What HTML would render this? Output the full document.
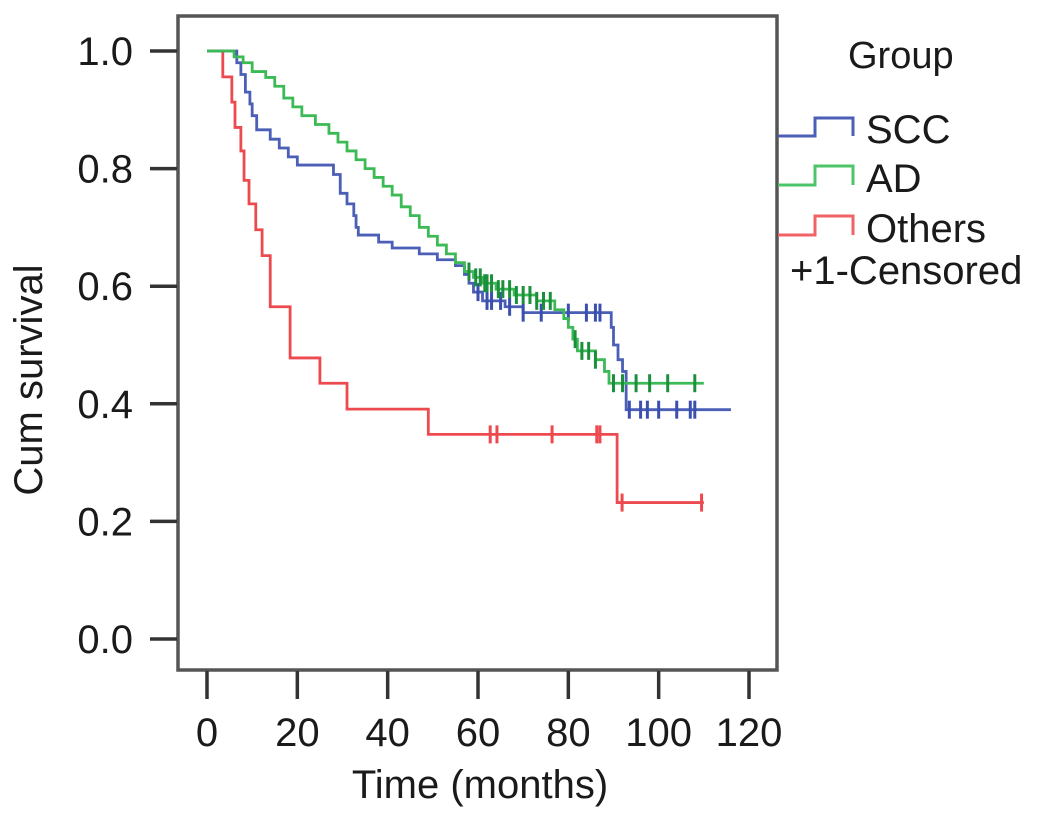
<!DOCTYPE html>
<html><head><meta charset="utf-8"><style>
body{margin:0;background:#fff;width:1042px;height:819px;overflow:hidden;font-family:"Liberation Sans",sans-serif}
svg text{font-family:"Liberation Sans",sans-serif;fill:#1a1a1a}
</style></head><body>
<svg id="chart" width="1042" height="819" viewBox="0 0 1042 819">
<rect x="178" y="16" width="599" height="654" fill="#fff" stroke="#555" stroke-width="3.5"/>
<g id="axes"></g><g id="series"></g>
<text transform="translate(42,380) rotate(-90)" text-anchor="middle" font-size="40">Cum survival</text>
<text x="480" y="798" text-anchor="middle" font-size="40">Time (months)</text>
<g>
<text x="848" y="68" font-size="38">Group</text>
<path d="M778 136H815V118H853V136" fill="none" stroke="#4a5fb5" stroke-width="3"/>
<text x="866" y="143" font-size="40">SCC</text>
<path d="M778 185H815V166H853V185" fill="none" stroke="#4cc46a" stroke-width="3"/>
<text x="866" y="192" font-size="40">AD</text>
<path d="M778 235H815V216H853V235" fill="none" stroke="#f06266" stroke-width="3"/>
<text x="866" y="242" font-size="40">Others</text>
<text x="790" y="284" font-size="40">+1-Censored</text>
</g>
</svg>
<script>
const xTicks=[0,20,40,60,80,100,120];
const yTicks=[0.0,0.2,0.4,0.6,0.8,1.0];
const sccTimes=[6.6,7.5,8.5,9.5,10,11,14,16,18,20,28,29.5,31,32.5,33,33.5,38,41,47,51,55,57,58,59,61,66,70,89.5,90,91,92,92.8];
const sccSurv=[0.98,0.96,0.93,0.91,0.89,0.866,0.85,0.835,0.82,0.806,0.79,0.758,0.74,0.72,0.70,0.687,0.675,0.665,0.655,0.645,0.635,0.62,0.605,0.59,0.575,0.565,0.555,0.53,0.50,0.475,0.455,0.39];
const sccCensor=[60,62,63,65,67,70,74,80,84,86,87,93.5,96,97.5,100,104,107,108];
const sccEnd=116;
const adTimes=[6,8,10,13,15,17,19,21,24,27,29,31,33,35,37,39,41,43,45,47,49,51,53,55,57,59,61,64,68,73,77,79,80,81,82,86,88,89];
const adSurv=[0.99,0.98,0.965,0.955,0.94,0.92,0.905,0.89,0.875,0.86,0.845,0.83,0.815,0.80,0.785,0.77,0.755,0.735,0.72,0.70,0.685,0.67,0.655,0.64,0.625,0.615,0.605,0.595,0.585,0.575,0.56,0.545,0.53,0.51,0.49,0.475,0.455,0.435];
const adCensor=[58,59.5,60.5,61.5,62,63,64.5,65.5,67,68.5,70,71.5,73,74.5,76,81.5,83,84.5,86,90,92,95,98,102,108];
const adEnd=110;
const othTimes=[3.5,5.5,6.2,7.5,8.2,9.3,10.8,12.2,14,18.4,25,31,49,90.8];
const othSurv=[0.956,0.913,0.87,0.83,0.78,0.74,0.696,0.652,0.565,0.478,0.435,0.391,0.348,0.232];
const othCensor=[62.7,64.2,76.4,86.3,87,91.9,109.5];
const othEnd=110;

const X=t=>207+t*(749-207)/120;
const Y=s=>639-s*588;
const NS='http://www.w3.org/2000/svg';
const axes=document.getElementById('axes'),ser=document.getElementById('series');
function mk(tag,attrs,parent){const e=document.createElementNS(NS,tag);for(const k in attrs)e.setAttribute(k,attrs[k]);parent.appendChild(e);return e;}
xTicks.forEach(v=>{
  const l=mk('line',{x1:X(v),x2:X(v),y1:671,y2:699,stroke:'#333','stroke-width':3.5},axes);
  
  
  const t=mk('text',{x:X(v),y:746,'text-anchor':'middle','font-size':40},axes);t.textContent=v;
  
  
});
yTicks.forEach(v=>{
  const l=mk('line',{x1:150,x2:177,y1:Y(v),y2:Y(v),stroke:'#333','stroke-width':3.5},axes);
  
  
  const t=mk('text',{x:133,y:Y(v)+14,'text-anchor':'end','font-size':40},axes);t.textContent=v.toFixed(1);
  
  
});
function surv(times,sv,t){let s=1;for(let i=0;i<times.length;i++)if(times[i]<=t)s=sv[i];return s;}
function draw(name,times,sv,cens,end,color,ccolor){
  let d='M'+X(0)+' '+Y(1);
  times.forEach((t,i)=>{d+='H'+X(t)+'V'+Y(sv[i]);});
  d+='H'+X(end);
  const p=mk('path',{d:d,fill:'none',stroke:color,'stroke-width':2.8},ser);
  
  
  cens.forEach(t=>{
    const y=Y(surv(times,sv,t));
    const c=mk('line',{x1:X(t),x2:X(t),y1:y-9,y2:y+9,stroke:ccolor,'stroke-width':3},ser);
    
    
  });
}
draw('others',othTimes,othSurv,othCensor,othEnd,'#ec4a4e','#ec4a4e');
draw('scc',sccTimes,sccSurv,sccCensor,sccEnd,'#4a5fb5','#3a4fb0');
draw('ad',adTimes,adSurv,adCensor,adEnd,'#3cba55','#1c8f3c');
</script>
</body></html>
